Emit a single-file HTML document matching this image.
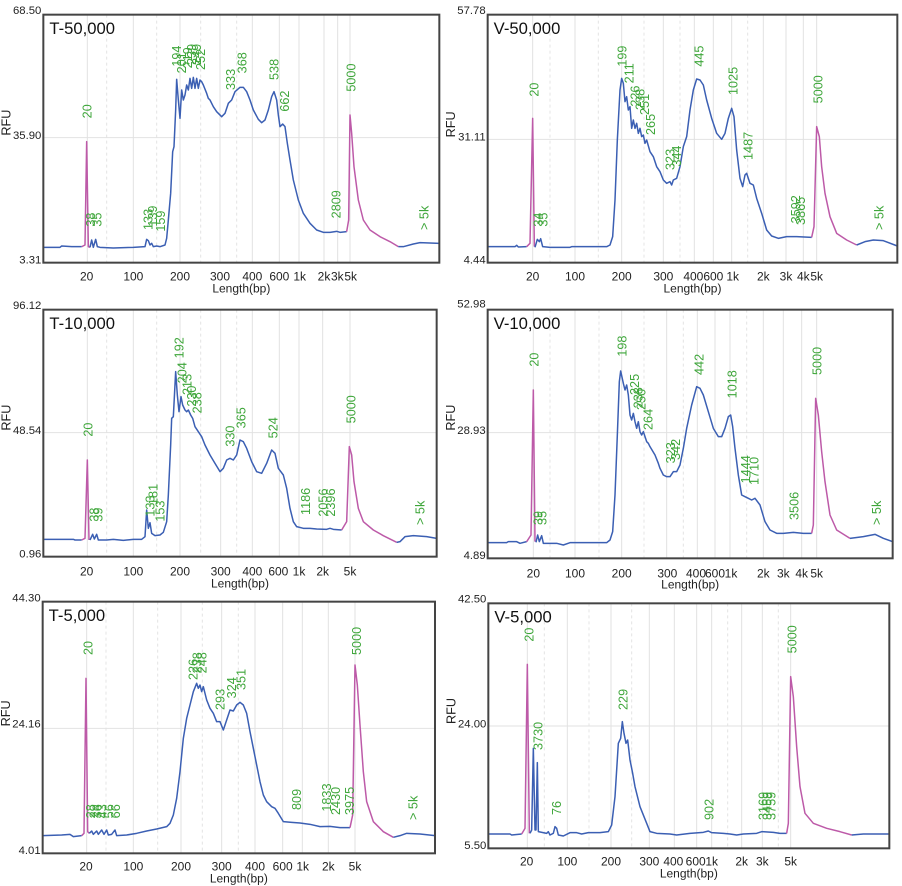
<!DOCTYPE html>
<html><head><meta charset="utf-8"><style>
html,body{margin:0;padding:0;background:#fff;}
svg{display:block;font-family:"Liberation Sans",sans-serif;}
</style></head><body>
<svg id="s" width="902" height="886" viewBox="0 0 902 886" xmlns="http://www.w3.org/2000/svg"></svg>
<script>
const P=[
{o:[0,0],box:[130,44,1318,788],title:"T-50,000",yl:["68.50","35.90","3.31"],yly:[30,405,778],gy:413,
 grid:[[262,0],[320,1],[400,0],[470,1],[540,0],[602,1],[660,0],[710,1],[757,0],[838,0],[897,0],[972,0],[1013,0],[1050,0]],
 tk:[["20",260],["100",400],["200",540],["300",660],["400",757],["600",838],["1k",899],["2k",972],["3k",1012],["5k",1052]],tky:830,lby:865,
 segs:[["b","130,742 180,742 185,738 215,740 245,740"],["p","245,740 255,735 260,425 265,740 270,742"],
 ["b","270,742 275,720 280,742 287,718 292,740 300,742 340,744 400,742 435,740 440,718 445,722 450,735 455,730 460,740 470,738 480,740 495,735 500,715 505,660 512,580 518,455 522,440 527,330 530,238 535,300 540,355 545,270 550,300 555,285 560,255 565,270 570,235 575,265 580,232 585,265 590,235 595,265 600,240 605,245 610,255 620,280 625,295 630,300 640,320 650,335 665,350 675,340 685,310 695,300 705,275 720,262 730,262 740,275 750,300 760,330 775,358 785,368 795,360 805,330 815,290 822,275 830,300 835,345 840,380 848,372 855,380 862,430 870,480 880,540 895,600 910,640 930,670 950,690 970,697 990,697 1010,694 1020,697 1040,695"],
 ["p","1040,695 1046,660 1050,345 1055,400 1062,500 1075,600 1090,660 1110,690 1140,710 1170,725 1195,740"],["b","1195,740 1210,740 1240,732 1260,728 1318,730"]],
 lab:[["20",262,355],["38",272,680],["35",292,680],["133",445,690],["139",458,680],["159",482,695],["194",530,200],["201",545,220],["219",563,205],["239",575,195],["249",590,195],["252",602,210],["333",692,270],["368",727,220],["538",822,240],["662",854,335],["2809",1008,655],["5000",1053,275],["> 5k",1272,690]]},
{o:[450,0],box:[113,44,1342,788],title:"V-50,000",yl:["57.78","31.11","4.44"],yly:[30,410,778],gy:418,
 grid:[[248,0],[300,1],[375,0],[445,1],[515,0],[582,1],[640,0],[690,1],[733,0],[790,0],[845,0],[893,1],[940,0],[1008,0],[1060,0],[1100,0]],
 tk:[["20",248],["100",375],["200",515],["300",640],["400",730],["600",790],["1k",848],["2k",940],["3k",1008],["4k",1060],["5k",1100]],tky:830,lby:865,
 segs:[["b","113,740 195,740 200,736 205,741 230,740"],["p","230,740 240,730 248,355 253,740"],
 ["b","255,742 262,718 268,725 272,716 278,740 300,742 360,742 365,740 470,740 480,735 488,710 495,600 502,420 510,270 515,235 520,250 525,305 530,290 535,330 540,320 545,385 550,360 555,385 560,370 565,400 570,385 575,410 580,405 585,430 590,420 600,455 610,470 620,500 630,515 640,540 650,550 660,545 665,555 670,540 680,535 690,500 700,440 710,410 720,330 730,270 740,237 750,240 760,255 770,300 785,355 800,400 815,418 825,400 835,355 845,325 852,350 860,450 870,535 878,560 885,525 890,520 900,550 910,555 920,595 935,640 950,690 965,708 985,715 1010,710 1040,710 1085,712"],
 ["p","1085,712 1092,680 1100,380 1108,410 1115,500 1125,580 1140,650 1160,700 1190,720 1220,735"],["b","1220,735 1245,725 1270,720 1300,722 1342,738"]],
 lab:[["20",252,290],["34",265,680],["35",280,680],["199",517,200],["211",537,250],["226",555,320],["238",570,330],["251",584,345],["265",602,405],["323",660,510],["344",680,500],["445",747,200],["1025",850,285],["1487",895,480],["3592",1037,670],["3865",1052,675],["5000",1104,310],["> 5k",1287,690]]},
{o:[0,295],box:[130,44,1310,785],title:"T-10,000",yl:["96.12","48.54","0.96"],yly:[30,405,775],gy:413,
 grid:[[262,0],[320,1],[400,0],[470,1],[540,0],[602,1],[662,0],[710,1],[757,0],[838,0],[897,0],[968,0],[1050,0]],
 tk:[["20",260],["100",400],["200",540],["300",662],["400",757],["600",835],["1k",897],["2k",968],["5k",1050]],tky:830,lby:865,
 segs:[["b","130,733 220,733 225,735 245,735"],["p","245,735 255,730 262,495 267,735"],
 ["b","270,735 278,718 283,732 290,718 295,735 320,735 340,733 370,736 400,733 425,733 435,725 440,645 445,700 450,683 455,715 465,722 480,720 490,712 500,680 505,600 512,450 515,370 520,365 527,230 532,300 537,350 543,305 548,330 555,345 560,350 565,345 572,360 578,370 585,395 595,410 605,425 615,450 630,480 645,505 660,530 670,520 680,495 690,490 700,495 710,480 720,435 730,440 740,460 755,500 770,530 785,535 800,505 815,465 825,475 835,520 850,540 860,580 870,640 880,680 890,695 910,700 930,700 950,702 980,703 990,700 1000,703 1025,705"],
 ["p","1025,705 1040,680 1048,455 1055,480 1062,560 1075,640 1090,680 1120,705 1150,722 1190,742"],["b","1190,742 1200,740 1215,725 1240,722 1280,725 1310,730"]],
 lab:[["20",265,425],["38",282,680],["39",295,680],["133",450,665],["181",460,630],["153",480,680],["192",537,190],["204",547,265],["213",562,300],["230",575,335],["238",592,355],["330",690,455],["365",724,400],["524",820,430],["1186",917,660],["2056",970,665],["2396",992,665],["5000",1054,385],["> 5k",1260,690]]},
{o:[450,295],box:[113,44,1328,790],title:"V-10,000",yl:["52.98","28.93","4.89"],yly:[25,405,780],gy:413,
 grid:[[250,0],[300,1],[375,0],[447,1],[515,0],[582,1],[650,0],[700,1],[742,0],[795,0],[840,0],[890,1],[940,0],[1000,0],[1055,0],[1100,0]],
 tk:[["20",250],["100",375],["200",515],["300",652],["400",738],["600",795],["1k",843],["2k",940],["3k",1000],["4k",1055],["5k",1100]],tky:835,lby:868,
 segs:[["b","113,743 170,743 175,740 200,740 210,745 230,740"],["p","230,740 243,720 250,285 255,740"],
 ["b","258,742 263,720 268,740 275,722 280,745 320,745 340,750 360,743 400,743 470,743 480,735 488,710 495,600 502,420 508,260 512,228 520,265 525,285 530,270 535,300 540,360 545,375 550,355 555,380 560,400 565,380 570,410 575,420 580,410 590,440 595,445 600,455 615,480 625,505 630,520 640,540 650,545 660,545 670,530 680,530 690,510 700,460 710,400 725,330 740,275 750,280 760,300 775,350 790,400 805,425 815,425 825,400 835,365 842,360 848,395 855,460 865,540 875,600 885,605 895,610 905,615 915,610 930,630 945,680 960,705 980,715 1000,715 1030,712 1060,715 1085,715"],
 ["p","1085,715 1090,690 1097,310 1105,360 1115,470 1125,560 1140,660 1160,705 1200,730"],["b","1200,730 1240,725 1275,718 1300,730 1328,740"]],
 lab:[["20",252,215],["39",264,690],["35",277,690],["198",517,185],["225",554,300],["238",564,340],["250",574,345],["264",594,405],["323",662,505],["342",677,495],["442",747,240],["1018",847,310],["1444",887,565],["1710",912,570],["3506",1032,675],["5000",1102,240],["> 5k",1280,690]]},
{o:[0,585],box:[128,50,1305,805],title:"T-5,000",yl:["44.30","24.16","4.01"],yly:[38,415,795],gy:430,
 grid:[[260,0],[318,1],[400,0],[473,1],[543,0],[607,1],[665,0],[715,1],[765,0],[848,0],[907,0],[985,0],[1065,0]],
 tk:[["20",258],["100",400],["200",543],["300",665],["400",765],["600",848],["1k",908],["2k",985],["5k",1065]],tky:845,lby:880,
 segs:[["b","128,752 185,750 210,748 220,755 245,752"],["p","245,752 252,745 258,280 263,740 268,745"],
 ["b","268,745 275,738 280,748 290,738 295,748 305,735 312,748 320,735 325,750 335,748 345,735 350,752 380,750 410,745 440,738 470,732 500,725 510,715 520,690 530,640 540,560 550,460 560,400 570,360 580,320 590,295 595,310 600,300 605,320 610,305 620,345 630,370 640,385 650,410 660,410 670,435 680,405 690,375 700,378 710,360 720,352 730,360 740,385 750,440 760,490 770,540 780,590 790,630 800,650 815,665 825,670 835,685 850,710 875,712 900,714 930,718 960,725 990,724 1020,728 1050,728"],
 ["p","1050,728 1058,690 1065,240 1072,300 1080,420 1090,560 1100,650 1120,710 1150,740 1180,757"],["b","1180,757 1200,752 1220,745 1260,747 1305,752"]],
 lab:[["20",264,210],["28",272,700],["29",282,700],["36",292,700],["43",307,700],["56",327,700],["66",347,700],["226",580,285],["238",592,265],["248",607,265],["293",660,375],["324",695,340],["351",724,315],["809",890,675],["1833",980,680],["2430",1007,690],["3975",1049,690],["5000",1070,210],["> 5k",1239,705]]},
{o:[450,580],box:[115,70,1318,805],title:"V-5,000",yl:["42.50","24.00","5.50"],yly:[55,430,795],gy:438,
 grid:[[232,0],[283,1],[352,0],[417,1],[483,0],[545,1],[598,0],[673,0],[740,0],[785,0],[833,1],[875,0],[937,0],[985,1],[1022,0]],
 tk:[["20",230],["100",352],["200",483],["300",598],["400",670],["600",737],["1k",785],["2k",875],["3k",937],["5k",1022]],tky:845,lby:880,
 segs:[["b","115,762 180,762 185,765 215,762"],["p","215,762 225,745 232,253 238,760"],
 ["b","240,760 245,750 250,505 255,750 258,750 262,548 265,755 290,760 295,755 300,765 310,760 315,740 320,745 325,765 340,768 360,758 380,758 395,762 415,758 450,758 475,755 485,735 495,650 505,490 512,475 517,425 522,460 528,490 533,480 540,540 548,580 555,620 570,680 590,730 600,755 620,760 660,762 680,765 720,760 760,757 775,753 785,758 820,760 840,762 860,765 880,762 920,760 935,755 970,757 990,760 1010,760"],
 ["p","1010,760 1015,730 1022,290 1030,350 1040,500 1050,620 1065,700 1090,730 1130,745 1170,755 1205,765"],["b","1205,765 1240,762 1318,762"]],
 lab:[["20",237,185],["3730",264,510],["76",320,705],["229",520,390],["902",777,720],["3169",940,720],["3459",952,720],["3759",964,720],["5000",1027,220]]}
];
let h="";
for(const p of P){
 const [x0,y0,x1,y1]=p.box;
 h+=`<g transform="translate(${p.o[0]},${p.o[1]}) scale(0.33333)">`;
 h+=`<rect x="${x0}" y="${y0}" width="${x1-x0}" height="${y1-y0}" fill="#fff"/>`;
 for(const [gx,d] of p.grid) h+=`<line x1="${gx}" y1="${y0}" x2="${gx}" y2="${y1}" stroke="${d?'#e4e4e4':'#e2e2e2'}" stroke-width="3" ${d?'stroke-dasharray="9,9"':''}/>`;
 h+=`<line x1="${x0}" y1="${p.gy}" x2="${x1}" y2="${p.gy}" stroke="#e2e2e2" stroke-width="3"/>`;
 for(const [c,pts] of p.segs) h+=`<polyline points="${pts}" fill="none" stroke="${c=='b'?'#3b5fb3':'#bd5aa8'}" stroke-width="4.5" stroke-linejoin="round"/>`;
 h+=`<rect x="${x0}" y="${y0}" width="${x1-x0}" height="${y1-y0}" fill="none" stroke="#444" stroke-width="6"/>`;
 h+=`<text x="${x0+18}" y="${y0+58}" font-size="50" fill="#111">${p.title}</text>`;
 p.yl.forEach((t,i)=>{h+=`<text x="${x0-6}" y="${p.yly[i]+12}" font-size="34" text-anchor="end" fill="#222">${t}</text>`;});
 h+=`<text transform="translate(${x0-98},${p.gy-45}) rotate(-90)" font-size="38" text-anchor="middle" fill="#222">RFU</text>`;
 for(const [t,x] of p.tk) h+=`<text x="${x}" y="${p.tky+12}" font-size="36" text-anchor="middle" fill="#222">${t}</text>`;
 h+=`<text x="${(x0+x1)/2}" y="${p.lby+12}" font-size="36" text-anchor="middle" fill="#222">Length(bp)</text>`;
 for(const [t,x,b] of p.lab) h+=`<text transform="translate(${x+13},${b}) rotate(-90)" font-size="38" fill="#3ea63a">${t.replace('>','&gt;')}</text>`;
 h+=`</g>`;
}
document.getElementById('s').innerHTML=h;
</script>
</body></html>
